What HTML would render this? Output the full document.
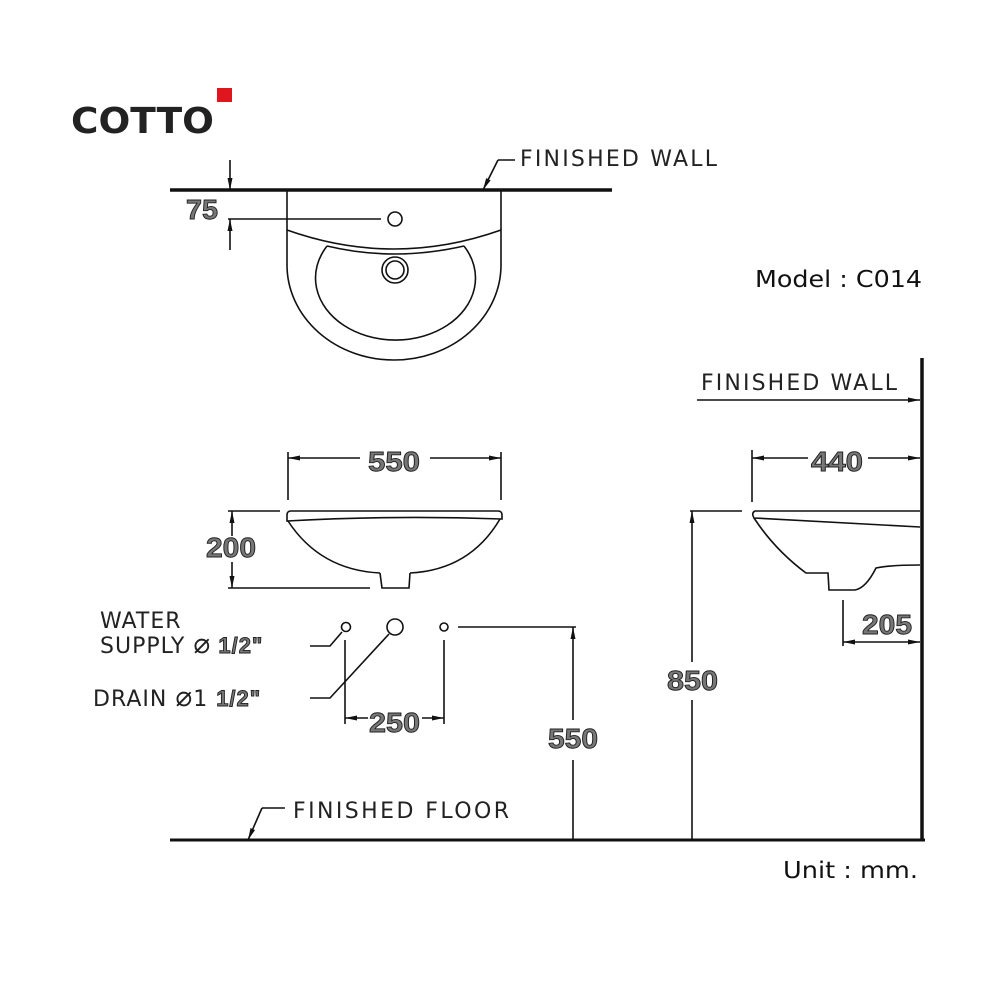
<!DOCTYPE html>
<html><head><meta charset="utf-8"><style>
html,body{margin:0;padding:0;background:#fff;}
svg{display:block}
.t{font-family:"DejaVu Sans","Liberation Sans",sans-serif;fill:#222;}
.d{font-family:"Liberation Sans",sans-serif;font-weight:bold;fill:#777;stroke:#222;stroke-width:0.9;}
</style></head><body>
<svg width="1000" height="1000" viewBox="0 0 1000 1000" xmlns="http://www.w3.org/2000/svg">
<defs>
<marker id="a" markerWidth="12" markerHeight="8" refX="12" refY="4" orient="auto-start-reverse" markerUnits="userSpaceOnUse">
<path d="M0,1.5 L12,4 L0,6.5 Z" fill="#111"/></marker>
</defs>
<!-- logo -->
<text x="71" y="133" font-family="DejaVu Sans,Liberation Sans,sans-serif" font-weight="bold" font-size="36" fill="#222" textLength="143" lengthAdjust="spacingAndGlyphs">COTTO</text>
<rect x="217" y="88" width="15" height="14" fill="#e0161e"/>

<g stroke="#111" fill="none" stroke-width="1.6">
<!-- top view -->
<line x1="170" y1="190" x2="612" y2="190" stroke-width="3.5"/>
<path d="M287,190 L287,265 A107,95 0 0 0 501,265 L501,190"/>
<path d="M287,230 Q394,268 501,230"/>
<path d="M327,246 A80,62 0 1 0 464,246"/>
<path d="M327,246 Q394,262 464,246"/>
<circle cx="395" cy="219" r="7"/>
<circle cx="395" cy="270" r="13"/>
<circle cx="395" cy="270" r="9"/>
<line x1="230" y1="160" x2="230" y2="190" marker-end="url(#a)"/>
<line x1="230" y1="250" x2="230" y2="219" marker-end="url(#a)"/>
<line x1="228" y1="219" x2="381" y2="219"/>
<path d="M498,160 L483,190" marker-end="url(#a)"/>
<line x1="498" y1="160" x2="515" y2="160"/>

<!-- front view -->
<line x1="288" y1="452" x2="288" y2="500"/>
<line x1="501" y1="452" x2="501" y2="500"/>
<line x1="288" y1="458" x2="360" y2="458" marker-start="url(#a)"/>
<line x1="430" y1="458" x2="501" y2="458" marker-end="url(#a)"/>
<path d="M291,511 L498,511 Q502,511 502,515 L502,519 Q394,515 287,521 L287,515 Q287,511 291,511 Z"/>
<path d="M288,521 Q320,570 380,573 M410,573 Q470,570 500,519"/>
<path d="M380,573 L382,588 L409,588 L410,573"/>
<line x1="228" y1="511" x2="280" y2="511"/>
<line x1="228" y1="588" x2="370" y2="588"/>
<line x1="232" y1="536" x2="232" y2="511" marker-end="url(#a)"/>
<line x1="232" y1="562" x2="232" y2="588" marker-end="url(#a)"/>

<!-- pipes -->
<circle cx="346" cy="627" r="4.5"/>
<circle cx="395" cy="627" r="8"/>
<circle cx="444" cy="627" r="4"/>
<line x1="458" y1="627" x2="576" y2="627"/>
<line x1="573" y1="720" x2="573" y2="627" marker-end="url(#a)"/>
<line x1="573" y1="760" x2="573" y2="840"/>
<line x1="345" y1="640" x2="345" y2="724"/>
<line x1="444" y1="640" x2="444" y2="724"/>
<line x1="368" y1="718" x2="345" y2="718" marker-end="url(#a)"/>
<line x1="422" y1="718" x2="444" y2="718" marker-end="url(#a)"/>
<path d="M310,646 L330,646 L342,632"/>
<path d="M310,698 L330,698 L389,634"/>

<!-- floor -->
<line x1="170" y1="840" x2="925" y2="840" stroke-width="3"/>
<path d="M262,808 L248,840" marker-end="url(#a)"/>
<line x1="262" y1="808" x2="285" y2="808"/>

<!-- side view -->
<line x1="922" y1="358" x2="922" y2="841" stroke-width="3.5"/>
<line x1="697" y1="400" x2="920" y2="400" marker-end="url(#a)"/>
<line x1="752" y1="450" x2="752" y2="502"/>
<line x1="752" y1="458" x2="808" y2="458" marker-start="url(#a)"/>
<line x1="868" y1="458" x2="920" y2="458" marker-end="url(#a)"/>
<path d="M920,511 L755,511 Q751,513 754,518 L920,527"/>
<path d="M754,518 Q775,550 806,573 L828,573 L829,590 L855,590 Q866,588 876,568 Q890,565 920,565"/>
<line x1="690" y1="511" x2="742" y2="511"/>
<line x1="692" y1="662" x2="692" y2="511" marker-end="url(#a)"/>
<line x1="692" y1="700" x2="692" y2="840"/>
<line x1="843" y1="600" x2="843" y2="646"/>
<line x1="843" y1="642" x2="920" y2="642" marker-start="url(#a)" marker-end="url(#a)"/>
</g>

<!-- labels -->
<text class="t" x="520" y="166" font-size="22" textLength="197" lengthAdjust="spacing">FINISHED WALL</text>
<text class="t" x="701" y="390" font-size="22" textLength="196" lengthAdjust="spacing">FINISHED WALL</text>
<text class="t" x="293" y="818" font-size="22" textLength="216" lengthAdjust="spacing">FINISHED FLOOR</text>
<text class="t" x="100" y="628" font-size="22" letter-spacing="1">WATER</text>
<text class="t" x="100" y="653" font-size="22" letter-spacing="1">SUPPLY <tspan font-size="28">⌀</tspan><tspan class="d" font-size="22"> 1/2"</tspan></text>
<text class="t" x="93" y="706" font-size="22" letter-spacing="1">DRAIN <tspan font-size="28">⌀</tspan>1 <tspan class="d" font-size="22">1/2"</tspan></text>
<text x="755" y="287" font-family="DejaVu Sans,Liberation Sans,sans-serif" font-size="23" fill="#111" textLength="167" lengthAdjust="spacingAndGlyphs">Model : C014</text>
<text x="783" y="878" font-family="DejaVu Sans,Liberation Sans,sans-serif" font-size="23" fill="#111" textLength="135" lengthAdjust="spacingAndGlyphs">Unit : mm.</text>

<g class="d" font-size="28">
<text x="186" y="219" textLength="32" lengthAdjust="spacingAndGlyphs">75</text>
<text x="368" y="471" textLength="52" lengthAdjust="spacingAndGlyphs">550</text>
<text x="811" y="471" textLength="52" lengthAdjust="spacingAndGlyphs">440</text>
<text x="206" y="557" textLength="50" lengthAdjust="spacingAndGlyphs">200</text>
<text x="369" y="732" textLength="51" lengthAdjust="spacingAndGlyphs">250</text>
<text x="548" y="748" textLength="50" lengthAdjust="spacingAndGlyphs">550</text>
<text x="667" y="690" textLength="51" lengthAdjust="spacingAndGlyphs">850</text>
<text x="862" y="634" textLength="50" lengthAdjust="spacingAndGlyphs">205</text>
</g>
</svg>
</body></html>
